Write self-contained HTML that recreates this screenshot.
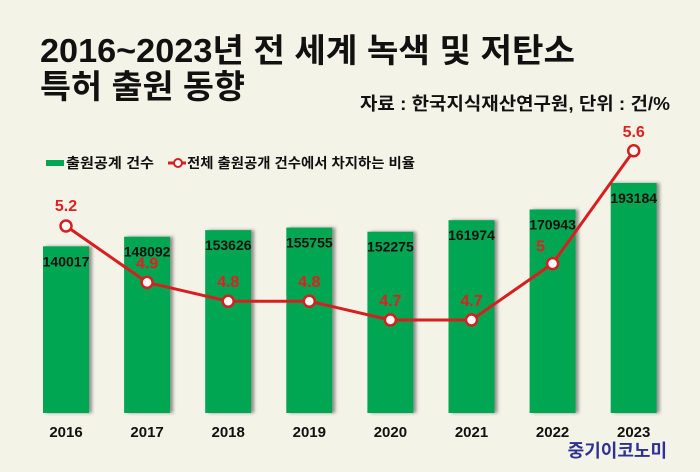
<!DOCTYPE html>
<html><head><meta charset="utf-8">
<style>
html,body{margin:0;padding:0;}
body{width:700px;height:467px;background:#f4f3e8;overflow:hidden;font-family:"Liberation Sans","Noto Sans CJK KR",sans-serif;}
</style></head>
<body>
<svg width="700" height="467" viewBox="0 0 700 467" xmlns="http://www.w3.org/2000/svg" font-family="Liberation Sans, Noto Sans CJK KR, sans-serif">
<defs><filter id="sh" x="-20%" y="-5%" width="140%" height="110%"><feDropShadow dx="3" dy="0" stdDeviation="1.5" flood-color="#777" flood-opacity="0.8"/></filter></defs>
<text x="40" y="62" font-size="33" font-weight="bold" fill="#111" textLength="535" lengthAdjust="spacingAndGlyphs">2016~2023년 전 세계 녹색 및 저탄소</text>
<text x="40" y="98" font-size="33" font-weight="bold" fill="#111" textLength="205" lengthAdjust="spacingAndGlyphs">특허 출원 동향</text>
<text x="670" y="110" font-size="18" font-weight="bold" fill="#111" text-anchor="end" textLength="310" lengthAdjust="spacingAndGlyphs">자료 : 한국지식재산연구원, 단위 : 건/%</text>
<g>
<rect x="46" y="160" width="18" height="6" fill="#00a651"/>
<text x="66" y="168" font-size="14" font-weight="bold" fill="#111" textLength="88" lengthAdjust="spacingAndGlyphs">출원공계 건수</text>
<line x1="168" y1="163" x2="186" y2="163" stroke="#d71f1f" stroke-width="3"/>
<circle cx="178" cy="163" r="4" fill="#fff" stroke="#d71f1f" stroke-width="2"/>
<text x="187" y="168" font-size="14" font-weight="bold" fill="#111" textLength="228" lengthAdjust="spacingAndGlyphs">전체 출원공개 건수에서 차지하는 비율</text>
</g>
<g id="bars"></g><g id="line"></g><g id="xl"></g>
<text x="667" y="457" font-size="18" font-weight="bold" fill="#2e3192" text-anchor="end">중기이코노미</text>
</svg>
<script>
const years=["2016","2017","2018","2019","2020","2021","2022","2023"];
const counts=[140017,148092,153626,155755,152275,161974,170943,193184];
const ratios=[5.2,4.9,4.8,4.8,4.7,4.7,5,5.6];
const NS="http://www.w3.org/2000/svg";
const x=i=>66+i*81.1;
const base=413;
const yb=v=>base-v*230/193184;
const yl=v=>320-(v-4.7)*188;
function mk(t,a,p){const e=document.createElementNS(NS,t);for(const k in a)e.setAttribute(k,a[k]);p.appendChild(e);return e;}
const gb=document.getElementById('bars'),gl=document.getElementById('line'),gx=document.getElementById('xl');
years.forEach((y,i)=>{
 const r=mk('rect',{x:x(i)-23,y:yb(counts[i]),width:46,height:base-yb(counts[i]),fill:'#00a651',filter:'url(#sh)'},gb);
 
 
 const t=mk('text',{x:x(i),y:yb(counts[i])+20,'font-size':14,'font-weight':'bold','text-anchor':'middle',fill:'#111'},gb);
 t.textContent=counts[i];
 
 
 const xt=mk('text',{x:x(i),y:437,'font-size':15,'font-weight':'bold','text-anchor':'middle',fill:'#111'},gx);
 xt.textContent=y;
 
 
});
const pl=mk('polyline',{points:ratios.map((v,i)=>x(i)+','+yl(v)).join(' '),fill:'none',stroke:'#d71f1f','stroke-width':3},gl);


ratios.forEach((v,i)=>{
 const c=mk('circle',{cx:x(i),cy:yl(v),r:5.5,fill:'#fff',stroke:'#d71f1f','stroke-width':2.5},gl);
 
 
 let lx=x(i),ly=yl(v)-14;
 if(i==6){lx=x(i)-12;ly=yl(v)-12;}
 if(i==0){ly=yl(v)-15;}
 const t=mk('text',{x:lx,y:ly,'font-size':16,'font-weight':'bold','text-anchor':'middle',fill:'#e02020'},gl);
 t.textContent=v;
 
 
});
</script>
</body></html>
